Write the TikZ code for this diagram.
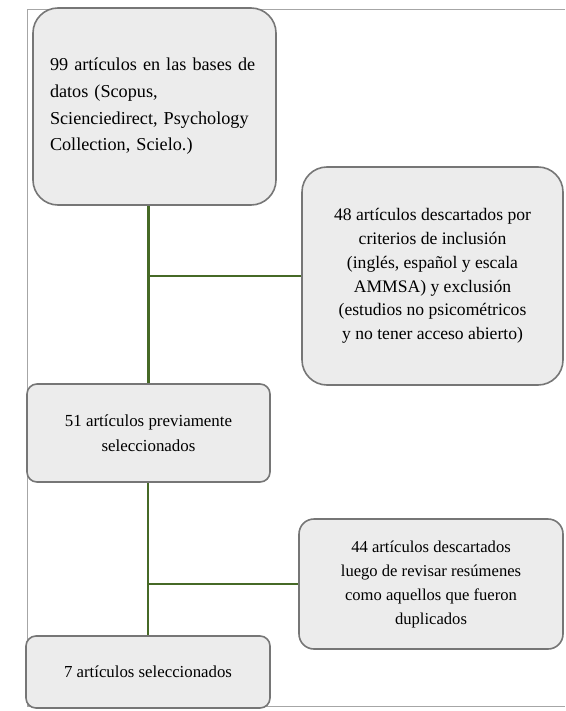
\documentclass[tikz,border=0pt]{standalone}
\usepackage{fontspec}
\setmainfont{Liberation Serif}
\definecolor{linkgreen}{RGB}{70,105,38}
\definecolor{boxfill}{RGB}{236,236,236}
\definecolor{boxline}{RGB}{118,118,118}

\tikzset{
  box/.style={draw=boxline, fill=boxfill, line width=1.6pt, inner sep=0pt, align=center},
  link/.style={draw=linkgreen, line width=2.3pt},
}

\begin{document}
\begin{tikzpicture}[x=1pt, y=-1pt]
\useasboundingbox (0, 0) rectangle (565, 711);
\draw [gray!70, line width=0.8pt] (565, 9.5) -- (27.5, 9.5) -- (27.5, 706.5) -- (565, 706.5);
%Boxes
\node (bases) [box, rounded corners=25pt, minimum width=243pt, minimum height=197pt, text width=209pt, align=left, font=\fontsize{18.2}{26.7}\selectfont] at (154.5, 106.5) {99 artículos en las bases de\\ datos (Scopus,\\ Scienciedirect, Psychology\\ Collection, Scielo.)};
\node (descarte) [box, rounded corners=25pt, minimum width=261pt, minimum height=218pt, font=\fontsize{17.6}{23.7}\selectfont] at (432.5, 276) {48 artículos descartados por\\ criterios de inclusión\\ (inglés, español y escala\\ AMMSA) y exclusión\\ (estudios no psicométricos\\ y no tener acceso abierto)};
\node (previos) [box, rounded corners=10pt, minimum width=243pt, minimum height=98pt, font=\fontsize{16.9}{25}\selectfont] at (148.5, 433) {51 artículos previamente\\ seleccionados};
\node (resumen) [box, rounded corners=15pt, minimum width=264pt, minimum height=130pt, font=\fontsize{16.6}{24}\selectfont] at (431, 584) {44 artículos descartados\\ luego de revisar resúmenes\\ como aquellos que fueron\\ duplicados};
\node (finales) [box, rounded corners=10pt, minimum width=244pt, minimum height=72pt, font=\fontsize{16.8}{25}\selectfont] at (148, 672) {7 artículos seleccionados};
%Lines
\draw [link] (previos.north) -- (previos.north |- bases.south);
\draw [link] (previos.north |- descarte.west) -- (descarte.west);
\draw [link] (finales.north) -- (previos.south -| finales.north);
\draw [link] (finales.north |- resumen.west) -- (resumen.west);
\end{tikzpicture}
\end{document}
